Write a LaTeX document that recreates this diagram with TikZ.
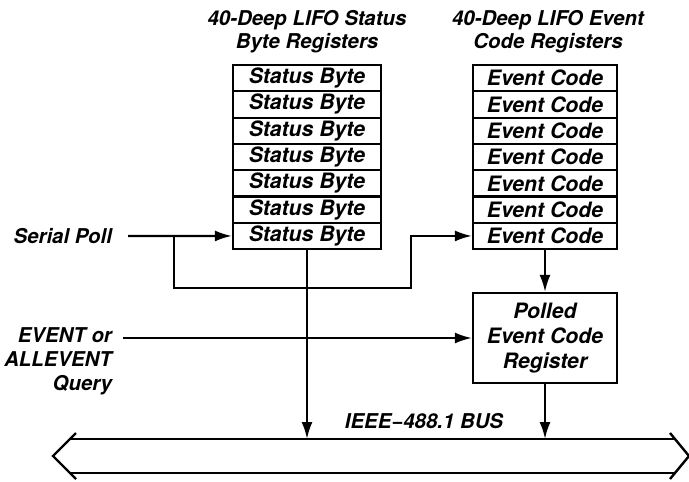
\documentclass[tikz,border=0pt]{standalone}
\usepackage{fontspec}
\setmainfont{TeX Gyre Heros}
\usetikzlibrary{arrows.meta, positioning}

\begin{document}
\begin{tikzpicture}[x=0.5pt, y=-0.5pt,
  font=\fontsize{10.2}{11.5}\selectfont\bfseries\itshape,
  reg/.style={draw, line width=1.1pt, inner sep=0pt, minimum height=13.15pt,
              font=\fontsize{10.6}{12}\selectfont\bfseries\itshape},
  sig/.style={line width=1.1pt, -{Latex[length=8.5pt, width=5.5pt]}},
  bus/.style={line width=1.2pt}]
  \useasboundingbox (0,0) rectangle (689,481);
  % titles
  \node[align=center] (ttlS) at (307,32) {40-Deep LIFO Status\\Byte Registers};
  \node[align=center] (ttlE) at (548,32) {40-Deep LIFO Event\\Code Registers};
  % register stacks
  \foreach \i in {1,...,7} {
    \node[reg, minimum width=74pt] (st\i) at (307,{65+26.3*(\i-0.5)}) {Status Byte};
    \node[reg, minimum width=72pt] (ev\i) at (545,{65+26.3*(\i-0.5)}) {Event Code};
  }
  % polled register
  \node[reg, minimum width=72pt, minimum height=45pt, align=center,
        font=\fontsize{10.6}{12.7}\selectfont\bfseries\itshape] (pol) at (545,338) {Polled\\Event Code\\Register};
  % inputs
  \node[anchor=east] (sp) at (119,236) {Serial Poll};
  \node[anchor=east, align=right, font=\fontsize{10.2}{12}\selectfont\bfseries\itshape] (evq) at (119,361) {EVENT or\\ALLEVENT\\Query};
  \coordinate (tap) at (174,288);
  \coordinate (jog) at (411,288);
  \coordinate (qin) at (123,338);
  % bus outline
  \coordinate (bnw) at (70,439);
  \coordinate (bne) at (675,439);
  \coordinate (bsw) at (70,473);
  \coordinate (bse) at (675,473);
  \draw[bus] (76,433) -- (53,456) -- (76,479);
  \draw[bus] (670,433) -- (689,456) -- (670,479);
  \draw[bus] (bnw) -- (bne) (bsw) -- (bse);
  \node (busl) at (424,421) {IEEE−488.1 BUS};
  % connectors
  \draw[sig] ([xshift=4.5pt]sp.east) -- (st7.west);
  \draw[sig] (tap |- st7.west) -- (tap) -- (jog) -- (jog |- ev7.west) -- (ev7.west);
  \draw[sig] (qin) -- (pol.west);
  \draw[sig] (st7.south) -- (st7.south |- bnw);
  \draw[sig] (ev7.south) -- (pol.north);
  \draw[sig] (pol.south) -- (pol.south |- bnw);
\end{tikzpicture}
\end{document}
